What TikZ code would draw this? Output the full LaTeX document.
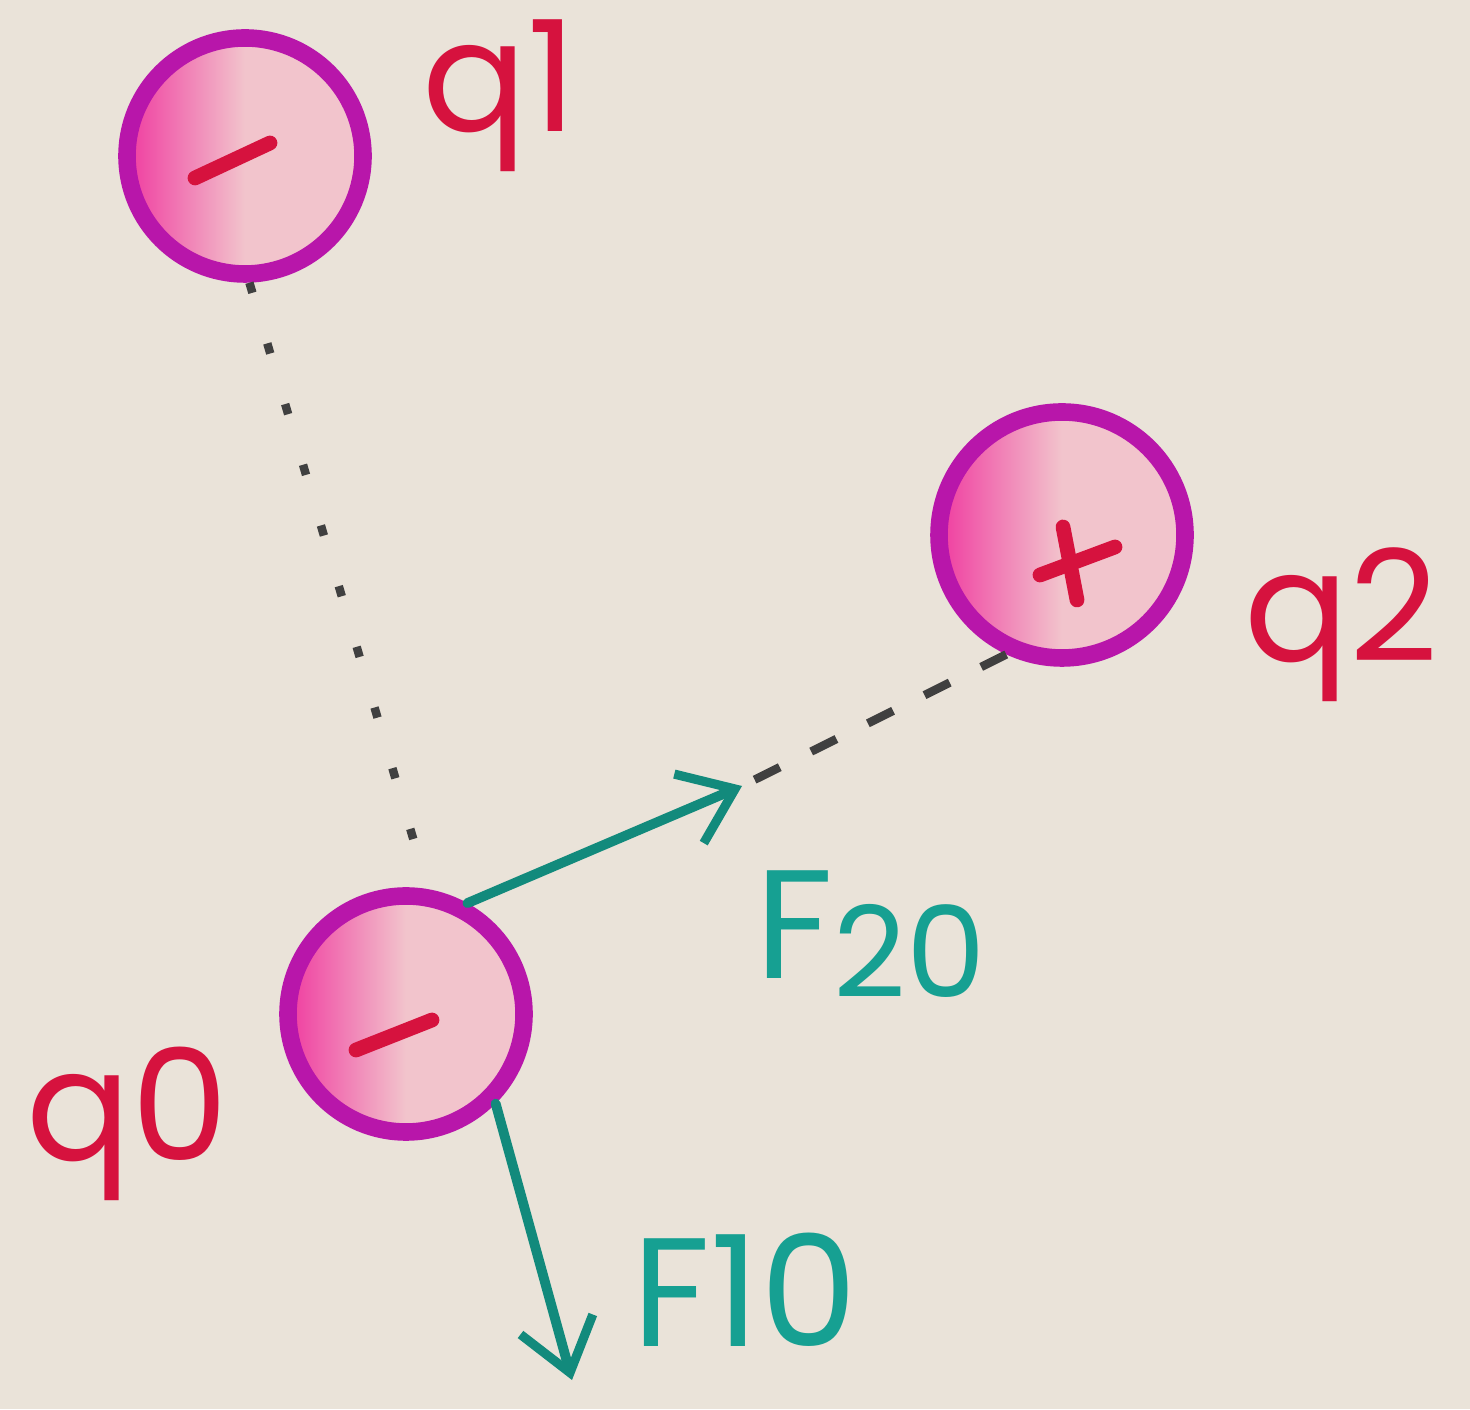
\documentclass[tikz,border=0pt]{standalone}
\usepackage{fontspec}
\setmainfont{Poppins}
\usepackage{xcolor}
\usepackage{tikz}
\usetikzlibrary{arrows.meta,positioning,calc}
\definecolor{paper}{RGB}{234,227,217}
\definecolor{ringmag}{RGB}{184,22,170}
\definecolor{pinkdeep}{RGB}{240,60,160}
\definecolor{pinklight}{RGB}{242,196,204}
\definecolor{signred}{RGB}{214,18,62}
\definecolor{forceteal}{RGB}{22,160,146}
\definecolor{arrowteal}{RGB}{18,138,124}
\tikzset{
  charge/.style={circle, draw=ringmag, line width=5pt, minimum size=23.6mm, inner sep=0pt,
    left color=pinkdeep, right color=pinklight, middle color=pinklight},
  chargesign/.style={draw=signred, line width=4.2pt, line cap=round},
  chargelabel/.style={text=signred, inner sep=0pt, font=\fontsize{44}{44}\selectfont},
  forcelabel/.style={text=forceteal, inner sep=0pt, font=\fontsize{44}{44}\selectfont},
  forcearrow/.style={draw=arrowteal, line width=2.8pt, line cap=round,
    -{Straight Barb[length=5mm, width=7.5mm, line width=2.6pt]}},
  linkdotted/.style={line width=2.4pt, black!75, dash pattern=on 3pt off 15pt},
  linkdashed/.style={line width=2.4pt, black!75, dash pattern=on 8pt off 10pt}
}
\begin{document}
\begin{tikzpicture}
\fill[paper] (0,0) rectangle (14.70,14.09);
\useasboundingbox (0,0) rectangle (14.70,14.09);
% charges
\node[charge] (q1) at (2.45,12.53) {};
\node[charge, minimum size=24.6mm] (q2) at (10.62,8.74) {};
\node[charge] (q0) at (4.06,3.95) {};
\draw[chargesign] ([shift={(-0.50,-0.22)}]q1.center) -- ([shift={(0.25,0.13)}]q1.center);
\draw[chargesign] ([shift={(-0.50,-0.36)}]q0.center) -- ([shift={(0.26,-0.06)}]q0.center);
\draw[chargesign] ([shift={(-0.22,-0.40)}]q2.center) -- ([shift={(0.53,-0.12)}]q2.center);
\draw[chargesign] ([shift={(0.01,0.08)}]q2.center) -- ([shift={(0.15,-0.65)}]q2.center);
% labels
\node[chargelabel, right=5mm of q1, yshift=6mm] (lq1) {q1};
\node[chargelabel, right=5mm of q2, yshift=-9mm] (lq2) {q2};
\node[chargelabel, left=5mm of q0, yshift=-11mm] (lq0) {q0};
% lines between charges
\coordinate (f20tip) at (7.42,6.23);
\coordinate (f10tip) at (5.72,0.29);
\draw[linkdotted] (q1.-88) -- (q0.80);
\draw[linkdashed] (q2.245) -- (f20tip);
% forces on q0
\draw[forcearrow] (q0.61) -- (f20tip);
\draw[forcearrow] (q0.-45) -- (f10tip);
\node[forcelabel, anchor=west] (lf20) at (7.55,4.75) {F\raisebox{-0.12em}{\fontsize{36}{36}\selectfont 20}};
\node[forcelabel, right=6mm of f10tip, yshift=9mm] (lf10) {F10};
\end{tikzpicture}
\end{document}
